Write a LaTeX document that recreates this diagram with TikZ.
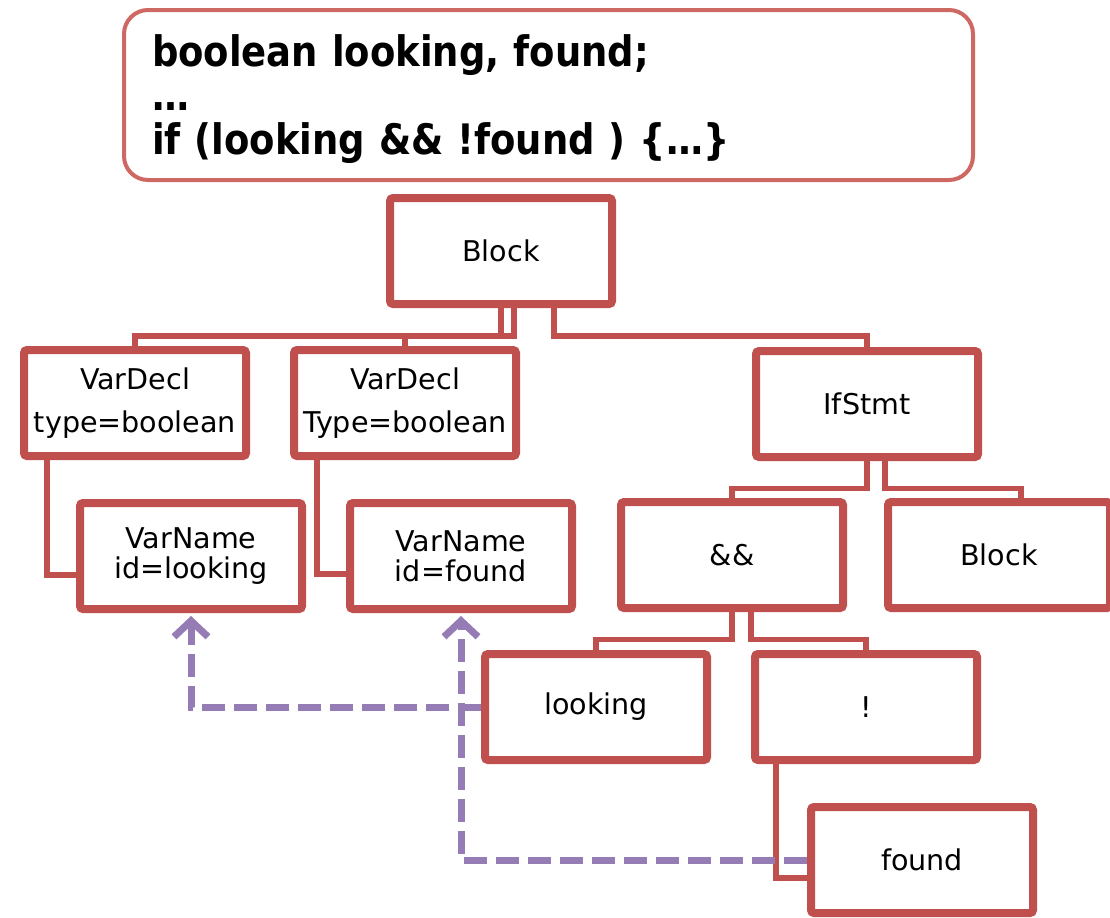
\documentclass[tikz,border=0pt]{standalone}
\usepackage{fontspec}
\setmainfont{DejaVu Sans}
\newfontfamily\codefont[FakeStretch=0.88]{DejaVu Sans}
\usetikzlibrary{arrows.meta,shadows}
\definecolor{boxred}{RGB}{192,80,77}
\definecolor{codered}{RGB}{206,104,98}
\definecolor{refpurple}{RGB}{149,124,181}

\begin{document}
\begin{tikzpicture}[x=0.5pt,y=-0.5pt]
	\tikzset{every node/.style={font=\fontsize{14.3}{21.5}\selectfont},
		box/.style={draw=boxred, line width=4pt, fill=white, rounded corners=1.5pt,
			minimum width=111pt, minimum height=53pt, inner sep=0pt, align=center,
			drop shadow={shadow xshift=1.5pt, shadow yshift=-1.5pt, opacity=0.25}},
		tight/.style={font=\fontsize{14.3}{15}\selectfont},
		code/.style={draw=codered, line width=2pt, rounded corners=12pt, fill=white,
			minimum width=424.5pt, minimum height=85pt, text width=396.5pt,
			inner xsep=14pt, align=left, font=\codefont\bfseries\fontsize{21}{22}\selectfont},
		link/.style={draw=boxred, line width=2.8pt},
		ref/.style={draw=refpurple, line width=3.5pt, dash pattern=on 11.5pt off 4.5pt,
			-{Straight Barb[length=8pt,width=17pt,line width=3.5pt]}, shorten >=1.5pt}}
	\useasboundingbox (0,0) rectangle (1110,917);

	% source snippet
	\node[code] (src) at (548.5,95) {\rule{0pt}{20pt}boolean looking, found;\\…\\if (looking \&\& !found ) \{…\}};

	% tree
	\node[box] (root) at (501,251) {Block};
	\node[box] (vd1) at (135,403) {VarDecl\\type=boolean};
	\node[box] (vd2) at (405,403) {VarDecl\\Type=boolean};
	\node[box] (ifst) at (867,404) {IfStmt};
	\node[box, tight] (vn1) at (191,556) {VarName\\id=looking};
	\node[box, tight] (vn2) at (461,556) {VarName\\id=found};
	\node[box] (andop) at (732,555) {\&\&};
	\node[box] (body) at (999,555) {Block};
	\node[box] (look) at (596,707) {looking};
	\node[box] (notop) at (866,707) {!};
	\node[box] (fnd) at (922,860) {found};

	\draw[link] (root.south) -- ++(0,28) -| (vd1.north);
	\draw[link] ([xshift=6.5pt]root.south) -- ++(0,28) -| (vd2.north);
	\draw[link] ([xshift=26.5pt]root.south) -- ++(0,28) -| (ifst.north);
	\draw[link] ([xshift=-44pt]vd1.south) |- ([yshift=-9.5pt]vn1.west);
	\draw[link] ([xshift=-44pt]vd2.south) |- ([yshift=-9pt]vn2.west);
	\draw[link] (ifst.south) -- ++(0,27.5) -| (andop.north);
	\draw[link] ([xshift=9pt]ifst.south) -- ++(0,27.5) -| ([xshift=11pt]body.north);
	\draw[link] (andop.south) -- ++(0,27.5) -| (look.north);
	\draw[link] ([xshift=9.5pt]andop.south) -- ++(0,27.5) -| (notop.north);
	\draw[link] ([xshift=-45pt]notop.south) |- ([yshift=-9pt]fnd.west);

	% references back to the declarations
	\draw[ref] (look.west) -| (vn1.south);
	\draw[ref] (fnd.west) -| (vn2.south);
\end{tikzpicture}
\end{document}
